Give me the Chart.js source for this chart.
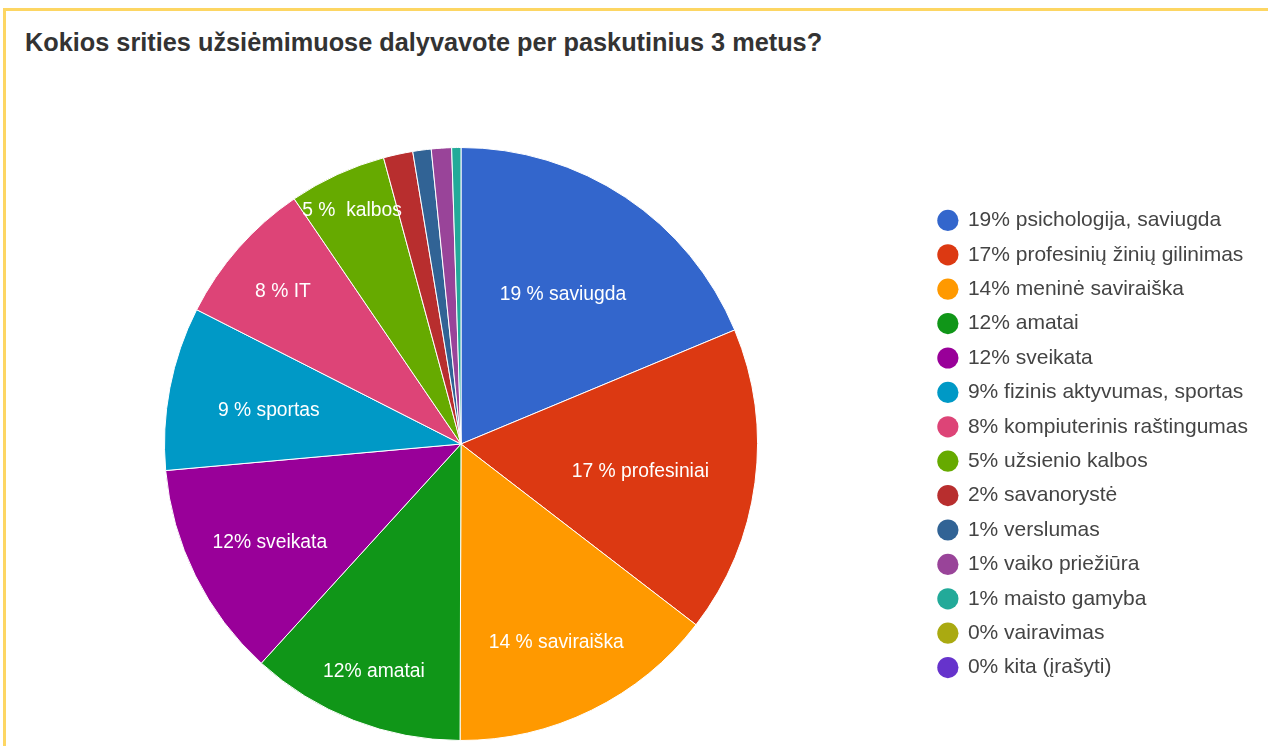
<!DOCTYPE html>
<html>
<head>
<meta charset="utf-8">
<script src="https://cdn.jsdelivr.net/npm/chart.js@4.4.1/dist/chart.umd.min.js"></script>
<style>
  html, body { margin: 0; padding: 0; background: #fff; overflow: hidden; }
  #frame {
    position: absolute; left: 3px; top: 8px; right: -10px; bottom: -10px;
    border-top: 3px solid #fdd663; border-left: 3px solid #fdd663;
  }
  #title {
    position: absolute; left: 25px; top: 30px;
    font: bold 25.3px "Liberation Sans", Arial, sans-serif;
    color: #333; white-space: nowrap; line-height: 1;
  }
  #chart { position: absolute; left: -3px; top: 0; }
</style>
</head>
<body>
<div id="frame"></div>
<div id="title">Kokios srities užsiėmimuose dalyvavote per paskutinius 3 metus?</div>
<canvas id="chart" width="1271" height="746"></canvas>
<script>
const categories = [
  "19% psichologija, saviugda",
  "17% profesinių žinių gilinimas",
  "14% meninė saviraiška",
  "12% amatai",
  "12% sveikata",
  "9% fizinis aktyvumas, sportas",
  "8% kompiuterinis raštingumas",
  "5% užsienio kalbos",
  "2% savanorystė",
  "1% verslumas",
  "1% vaiko priežiūra",
  "1% maisto gamyba",
  "0% vairavimas",
  "0% kita (įrašyti)"
];
const values = [18.7, 16.7, 14.6, 11.7, 11.8, 8.9, 8.0, 5.3, 1.6, 1.0, 1.1, 0.5, 0, 0];
const sliceLabels = [
  "19 % saviugda", "17 % profesiniai", "14 % saviraiška", "12% amatai",
  "12% sveikata", "9 % sportas", "8 % IT", "5 %  kalbos"
];

const colors = [
  "#3366cc", "#dc3912", "#ff9900", "#109618", "#990099", "#0099c6", "#dd4477",
  "#66aa00", "#b82e2e", "#316395", "#994499", "#22aa99", "#aaaa11", "#6633cc"
];
// how far out (share of radius) each slice label sits
const labelRadius = [0.62, 0.61, 0.73, 0.81, 0.72, 0.66, 0.80, 0.88];

const sliceLabelPlugin = {
  id: "sliceLabels",
  afterDatasetsDraw(chart) {
    const ctx = chart.ctx;
    const arcs = chart.getDatasetMeta(0).data;
    ctx.save();
    ctx.font = '19.3px "Liberation Sans", Arial, sans-serif';
    ctx.fillStyle = "#fff";
    ctx.textAlign = "center";
    ctx.textBaseline = "middle";
    arcs.forEach((arc, i) => {
      if (!sliceLabels[i]) return;
      const p = arc.getProps(["x", "y", "startAngle", "endAngle", "outerRadius"], true);
      const mid = (p.startAngle + p.endAngle) / 2;
      const r = p.outerRadius * labelRadius[i];
      // nudge down a little, text sits slightly below the mid-angle point
      ctx.fillText(sliceLabels[i], p.x + Math.cos(mid) * r, p.y + Math.sin(mid) * r + 4);
    });
    ctx.restore();
  }
};

new Chart(document.getElementById("chart"), {
  type: "pie",
  data: {
    labels: categories,
    datasets: [{
      data: values,
      backgroundColor: colors,
      borderColor: "#ffffff",
      borderWidth: 1
    }]
  },
  options: {
    responsive: false,
    devicePixelRatio: 1,
    animation: false,
    layout: { padding: { top: 147, bottom: 5, left: 0, right: 10 } },
    plugins: {
      tooltip: { enabled: false },
      legend: {
        position: "right",
        align: "center",
        labels: {
          usePointStyle: true,
          pointStyle: "circle",
          boxWidth: 19,
          boxHeight: 15,
          padding: 13.4,
          color: "#444",
          font: { family: '"Liberation Sans", Arial, sans-serif', size: 21 },
          generateLabels(chart) {
            const items = Chart.overrides.doughnut.plugins.legend.labels.generateLabels(chart);
            items.forEach(it => { it.strokeStyle = it.fillStyle; it.lineWidth = 0; });
            return items;
          }
        }
      }
    }
  },
  plugins: [sliceLabelPlugin]
});
</script>
</body>
</html>
